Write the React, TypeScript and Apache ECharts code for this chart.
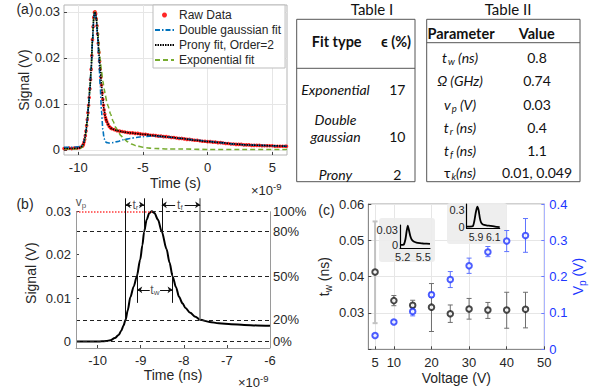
import React, { useEffect, useRef } from 'react';
import * as echarts from 'echarts';

const SANS = '"Liberation Sans", Arial, Helvetica, sans-serif';
const TAB = 'Lato, "Open Sans", "DejaVu Sans", sans-serif';
const INK = '#262626';

/* ---------------- Panel (a) ---------------- */
const aTimeTicks = [-10, -5, 0, 5];
const aSignalTicks = [0, 0.01, 0.02, 0.03];
const rawPoints = [
  [-11.1, 0.0003], [-10.9, 0.0003], [-10.7, 0.0004], [-10.5, 0.0003], [-10.3, 0.0004], [-10.1, 0.0004], [-9.9, 0.0005], [-9.7, 0.0008],
  [-9.65, 0.0009], [-9.6, 0.0012], [-9.55, 0.0017], [-9.5, 0.0023], [-9.45, 0.0031], [-9.4, 0.0041], [-9.35, 0.0053], [-9.3, 0.0066],
  [-9.25, 0.0081], [-9.2, 0.0097], [-9.15, 0.0114], [-9.1, 0.0133], [-9.05, 0.0153], [-9.0, 0.0175], [-8.95, 0.0205], [-8.9, 0.024],
  [-8.85, 0.0268], [-8.8, 0.0288], [-8.75, 0.0299], [-8.7, 0.03], [-8.65, 0.0296], [-8.6, 0.0285], [-8.55, 0.027], [-8.5, 0.0252],
  [-8.45, 0.0232], [-8.4, 0.0212], [-8.35, 0.0193], [-8.3, 0.0176], [-8.25, 0.0158], [-8.2, 0.0141], [-8.15, 0.0124], [-8.1, 0.011],
  [-8.05, 0.0097], [-8.0, 0.0087], [-7.95, 0.0078], [-7.9, 0.0071], [-7.85, 0.0066], [-7.8, 0.0062], [-7.7, 0.0056], [-7.6, 0.0051],
  [-7.5, 0.0048], [-7.4, 0.0046], [-7.2, 0.0044], [-7.0, 0.0042], [-6.8, 0.0041], [-6.6, 0.004], [-6.4, 0.0039], [-6.2, 0.0038],
  [-6.0, 0.0037], [-5.8, 0.0037], [-5.6, 0.0036], [-5.4, 0.0036], [-5.2, 0.0035], [-5.0, 0.0034], [-4.8, 0.0034], [-4.6, 0.0033],
  [-4.4, 0.0032], [-4.2, 0.0032], [-4.0, 0.0031], [-3.8, 0.003], [-3.6, 0.003], [-3.4, 0.0029], [-3.2, 0.0029], [-3.0, 0.0028],
  [-2.8, 0.0027], [-2.6, 0.0027], [-2.4, 0.0026], [-2.2, 0.0025], [-2.0, 0.0025], [-1.8, 0.0024], [-1.6, 0.0023], [-1.4, 0.0023],
  [-1.2, 0.0022], [-1.0, 0.0021], [-0.8, 0.0021], [-0.6, 0.002], [-0.4, 0.0019], [-0.2, 0.0019], [0.0, 0.0018], [0.2, 0.0018],
  [0.4, 0.0017], [0.6, 0.0017], [0.8, 0.0016], [1.0, 0.0016], [1.2, 0.0015], [1.4, 0.0014], [1.6, 0.0014], [1.8, 0.0013],
  [2.0, 0.0013], [2.2, 0.0012], [2.4, 0.0012], [2.6, 0.0012], [2.8, 0.0011], [3.0, 0.0011], [3.2, 0.0011], [3.4, 0.001],
  [3.6, 0.001], [3.8, 0.001], [4.0, 0.001], [4.2, 0.0009], [4.4, 0.0009], [4.6, 0.0009], [4.8, 0.0009], [5.0, 0.0009],
  [5.2, 0.0008], [5.4, 0.0008], [5.6, 0.0008], [5.8, 0.0008], [6.0, 0.0008], [6.1, 0.0008],
];
const doubleGaussPoints = [
  [-11.1, 0.0006], [-10.5, 0.0006], [-10, 0.0007], [-9.8, 0.0008], [-9.7, 0.001], [-9.6, 0.0015], [-9.5, 0.0025], [-9.4, 0.004],
  [-9.3, 0.0064], [-9.2, 0.0095], [-9.1, 0.0133], [-9.0, 0.0178], [-8.9, 0.0232], [-8.8, 0.0282], [-8.75, 0.0297], [-8.7, 0.03],
  [-8.65, 0.0295], [-8.6, 0.0283], [-8.5, 0.0245], [-8.4, 0.0195], [-8.3, 0.0138], [-8.2, 0.0085], [-8.1, 0.0045], [-8.0, 0.0025],
  [-7.9, 0.0018], [-7.8, 0.0016], [-7.6, 0.0015], [-7.3, 0.0016], [-7.0, 0.0018], [-6.5, 0.0022], [-6.0, 0.0025], [-5.5, 0.0027],
  [-5.0, 0.0029], [-4.5, 0.003], [-4.0, 0.003], [-3.5, 0.0029], [-3.0, 0.0028], [-2.5, 0.0026], [-2.0, 0.0025], [-1.0, 0.0022],
  [0, 0.0019], [1, 0.0016], [2, 0.0013], [3, 0.0011], [4, 0.001], [5, 0.0009], [6.14, 0.0008],
];
const pronyPoints = [
  [-11.1, 0.0003], [-10.5, 0.0003], [-10, 0.0004], [-9.8, 0.0005], [-9.7, 0.0008], [-9.6, 0.0012], [-9.5, 0.0023], [-9.4, 0.0041],
  [-9.3, 0.0066], [-9.2, 0.0097], [-9.1, 0.0133], [-9.0, 0.0175], [-8.9, 0.024], [-8.8, 0.0288], [-8.75, 0.0299], [-8.7, 0.03],
  [-8.65, 0.0296], [-8.6, 0.0285], [-8.5, 0.0252], [-8.4, 0.0212], [-8.3, 0.0176], [-8.2, 0.0141], [-8.1, 0.011], [-8.0, 0.0087],
  [-7.9, 0.0071], [-7.8, 0.0062], [-7.6, 0.0051], [-7.4, 0.0046], [-7.0, 0.0042], [-6.5, 0.0039], [-6.0, 0.0037], [-5.0, 0.0034],
  [-4.0, 0.0031], [-3.0, 0.0028], [-2.0, 0.0025], [-1.0, 0.0021], [0, 0.0018], [1, 0.0016], [2, 0.0013], [3, 0.0011],
  [4, 0.001], [5, 0.0009], [6.14, 0.0008],
];
const exponentialPoints = [
  [-11.1, 0.0002], [-10.5, 0.0002], [-10, 0.0002], [-9.8, 0.0004], [-9.7, 0.0006], [-9.6, 0.0011], [-9.5, 0.0021], [-9.4, 0.0039],
  [-9.3, 0.0064], [-9.2, 0.0095], [-9.1, 0.0132], [-9.0, 0.0176], [-8.9, 0.0236], [-8.8, 0.0286], [-8.75, 0.0298], [-8.7, 0.03],
  [-8.6, 0.0287], [-8.5, 0.0262], [-8.4, 0.0226], [-8.3, 0.0195], [-8.2, 0.017], [-8.1, 0.015], [-8.0, 0.0133], [-7.9, 0.0118],
  [-7.8, 0.0106], [-7.7, 0.0096], [-7.5, 0.0078], [-7.3, 0.0062], [-7.1, 0.0049], [-6.9, 0.0039], [-6.7, 0.0031], [-6.5, 0.0025],
  [-6.2, 0.0018], [-5.9, 0.0013], [-5.5, 0.0009], [-5.0, 0.0006], [-4.5, 0.0004], [-4.0, 0.0003], [-3.0, 0.0002], [-2.0, 0.0002],
  [0, 0.0001], [3, 0.0001], [6.14, 0.0001],
];

/* ---------------- Panel (b) ---------------- */
const bTimeTicks = [-10, -9, -8, -7, -6];
const bSignalTicks = [0, 0.01, 0.02, 0.03];
const bPulse = [
  [-10.5, 0], [-10.2, 0], [-10, 0], [-9.9, 0.00005], [-9.8, 0.0001], [-9.7, 0.0003], [-9.6, 0.0008], [-9.51, 0.0015],
  [-9.45, 0.0025], [-9.4, 0.0036], [-9.35, 0.005], [-9.3, 0.0072], [-9.24, 0.0102], [-9.16, 0.0127], [-9.09, 0.015],
  [-9.01, 0.0189], [-8.96, 0.0222], [-8.92, 0.0253], [-8.86, 0.0281], [-8.8, 0.0296], [-8.74, 0.03], [-8.68, 0.0296],
  [-8.6, 0.0281], [-8.51, 0.0253], [-8.4, 0.0213], [-8.33, 0.0182], [-8.26, 0.015], [-8.18, 0.0125], [-8.11, 0.0103],
  [-8.03, 0.0088], [-7.96, 0.0077], [-7.85, 0.0066], [-7.73, 0.0057], [-7.62, 0.005], [-7.4, 0.0045], [-7.19, 0.0042],
  [-6.9, 0.004], [-6.6, 0.0038], [-6.3, 0.0037], [-6.0, 0.0036],
];
const bLevels = [0, 0.005, 0.015, 0.0253, 0.03];
const bLevelLabels = ['0%', '20%', '50%', '80%', '100%'];
const bPeakTime = -8.74;
const bPeakSignal = 0.03;
const bRiseTimes = [-9.35, -8.92];
const bFallTimes = [-8.51, -7.62];
const bWidthTimes = [-9.08, -8.26];

/* ---------------- Panel (c) ---------------- */
const voltage = [5, 10, 15, 20, 25, 30, 35, 40, 45];
const twMean = [0.0413, 0.0334, 0.0321, 0.0316, 0.0298, 0.0311, 0.0308, 0.0308, 0.031];
const twLow = [0.0272, 0.032, 0.031, 0.0249, 0.0274, 0.0283, 0.0285, 0.0258, 0.0259];
const twHigh = [0.0552, 0.0348, 0.0335, 0.0381, 0.0322, 0.034, 0.0329, 0.0357, 0.0357];
const vpMean = [0.038, 0.075, 0.104, 0.15, 0.192, 0.23, 0.268, 0.298, 0.313];
const vpLow = [0.035, 0.071, 0.092, 0.143, 0.17, 0.209, 0.255, 0.269, 0.267];
const vpHigh = [0.041, 0.079, 0.115, 0.157, 0.214, 0.251, 0.283, 0.327, 0.36];
const voltageTicks = [5, 10, 20, 30, 40, 50];
const twTicks = [0.03, 0.04, 0.05, 0.06];
const inset1Points = [
  [5.16, 0.0003], [5.2, 0.0004], [5.22, 0.002], [5.24, 0.012], [5.255, 0.026], [5.273, 0.0386], [5.29, 0.03],
  [5.31, 0.018], [5.33, 0.011], [5.36, 0.0068], [5.4, 0.0048], [5.45, 0.0037], [5.5, 0.003], [5.597, 0.0022],
];
const inset1XTicks = [5.2, 5.5];
const inset1YTicks = [0, 0.03];
const inset2Points = [
  [5.793, 0.012], [5.83, 0.012], [5.865, 0.02], [5.88, 0.1], [5.897, 0.25], [5.915, 0.36], [5.93, 0.3],
  [5.945, 0.16], [5.96, 0.08], [5.98, 0.05], [6.02, 0.035], [6.07, 0.025], [6.12, 0.012], [6.174, 0.004],
];
const inset2XTicks = [5.9, 6.1];
const inset2YTicks = [0, 0.3];

/* ---------------- Tables ---------------- */
const table1Fits = [['Exponential'], ['Double', 'gaussian'], ['Prony']];
const table1Errors = ['17', '10', '2'];
const table2Params = [
  '{i|t}{s|w}{i| (ns)}',
  '{i|Ω (GHz)}',
  '{i|v}{s|p}{i| (V)}',
  '{i|t}{s|r}{i| (ns)}',
  '{i|t}{s|f}{i| (ns)}',
  '{g|τ}{s|k}{i|(ns)}',
];
const table2Values = ['0.8', '0.74', '0.03', '0.4', '1.1', '0.01, 0.049'];

const lbl = (extra: any = {}) => ({ fontFamily: SANS, fontSize: 13, color: INK, ...extra });
const nameStyle = (extra: any = {}) => ({ fontFamily: SANS, fontSize: 14, color: INK, ...extra });
const subRich = (color: string, size = 14) => ({
  m: { fontFamily: SANS, fontSize: size, color },
  s: { fontFamily: SANS, fontSize: Math.round(size * 0.68), color, padding: [8, 0, 0, 0] },
});

function buildOption(): any {
  const TS = 14;
  const tableText = (x: number, y: number, text: string, style: any = {}) => ({
    type: 'text', x, y, silent: true,
    style: { text, fontFamily: TAB, fontSize: TS, fill: '#111', align: 'center', verticalAlign: 'middle', ...style },
  });
  const tableRich = {
    i: { fontFamily: TAB, fontSize: TS, fontStyle: 'italic', fill: '#111' },
    g: { fontFamily: TAB, fontSize: TS, fill: '#111' },
    s: { fontFamily: TAB, fontSize: 9.5, fontStyle: 'italic', fill: '#111', padding: [8, 0, 0, 1] },
  };

  const t1Rows = [89.3, 136.7, 174];
  const t2Rows = [57.3, 80.7, 104, 127.3, 150, 172.7];
  const graphic: any[] = [
    // Table I
    tableText(372, 9, 'Table I', { fontSize: 15 }),
    { type: 'rect', shape: { x: 296.7, y: 19.3, width: 118.3, height: 162.4 }, style: { fill: 'none', stroke: '#555', lineWidth: 1 } },
    { type: 'line', shape: { x1: 296.7, y1: 68.3, x2: 415, y2: 68.3 }, style: { stroke: '#555', lineWidth: 1 } },
    tableText(336.7, 41.7, 'Fit type', { fontWeight: 'bold', fontSize: 14.5 }),
    tableText(396, 41.7, 'ϵ (%)', { fontWeight: 'bold', fontSize: 14.5 }),
    // Table II
    tableText(508, 9, 'Table II', { fontSize: 15 }),
    { type: 'rect', shape: { x: 426.7, y: 19.3, width: 153.3, height: 162.4 }, style: { fill: 'none', stroke: '#555', lineWidth: 1 } },
    { type: 'line', shape: { x1: 426.7, y1: 42.7, x2: 580, y2: 42.7 }, style: { stroke: '#555', lineWidth: 1 } },
    tableText(461, 33.3, 'Parameter', { fontWeight: 'bold', fontSize: 14.5 }),
    tableText(536.7, 33.3, 'Value', { fontWeight: 'bold', fontSize: 14.5 }),
    // panel tags
    tableText(25, 9, '(a)', { fontFamily: SANS, fontSize: 14, fill: INK }),
    tableText(25, 204, '(b)', { fontFamily: SANS, fontSize: 14, fill: INK }),
    tableText(326.5, 210, '(c)', { fontFamily: SANS, fontSize: 14, fill: INK }),
    // exponent notes
    {
      type: 'text', x: 251, y: 190, silent: true,
      style: { text: '×10{sup|-9}', rich: { sup: { fontFamily: SANS, fontSize: 9.5, fill: INK, padding: [0, 0, 8, 0] } }, fontFamily: SANS, fontSize: 13, fill: INK, align: 'left', verticalAlign: 'middle' },
    },
    {
      type: 'text', x: 238, y: 382, silent: true,
      style: { text: '×10{sup|-9}', rich: { sup: { fontFamily: SANS, fontSize: 9.5, fill: INK, padding: [0, 0, 8, 0] } }, fontFamily: SANS, fontSize: 13, fill: INK, align: 'left', verticalAlign: 'middle' },
    },
    // inset backgrounds
    { type: 'rect', z: 1, shape: { x: 379, y: 218, width: 56, height: 44, r: 3 }, style: { fill: 'rgba(236,236,236,0.9)' } },
    { type: 'rect', z: 1, shape: { x: 447, y: 203, width: 60, height: 41, r: 3 }, style: { fill: 'rgba(236,236,236,0.9)' } },
  ];
  table1Fits.forEach((lines, i) => {
    const y = t1Rows[i];
    lines.forEach((ln, k) => {
      graphic.push(tableText(335.5, y - (lines.length - 1 - k) * 17.4, ln, { fontStyle: 'italic' }));
    });
    graphic.push(tableText(397.3, y, table1Errors[i]));
  });
  table2Params.forEach((p, i) => {
    graphic.push({
      type: 'text', x: 460, y: t2Rows[i], silent: true,
      style: { text: p, rich: tableRich, fontFamily: TAB, fontSize: TS, fill: '#111', align: 'center', verticalAlign: 'middle' },
    });
    graphic.push(tableText(537, t2Rows[i], table2Values[i]));
  });

  // ---- panel (b) decorations (through data coordinates) ----
  const bX0 = -10.5, bX1 = -6, bY0 = -0.0015, bYTop = 0.033;
  const dashed = { type: [4, 3], color: '#222', width: 1 };
  const solid = { type: 'solid', color: '#111', width: 1 };
  const bMarks: any[] = [];
  bLevels.forEach((l) => {
    if (l < bPeakSignal) bMarks.push([{ coord: [bX0, l], lineStyle: dashed }, { coord: [bX1, l] }]);
  });
  bMarks.push([{ coord: [bX0, bPeakSignal], lineStyle: { type: [1.5, 1.5], color: '#ff3b3b', width: 1.5 } }, { coord: [bPeakTime, bPeakSignal] }]);
  bMarks.push([{ coord: [bPeakTime, bPeakSignal], lineStyle: dashed }, { coord: [bX1, bPeakSignal] }]);
  bMarks.push([{ coord: [bX0, bY0], lineStyle: { type: 'solid', color: '#9a9a9a', width: 1 } }, { coord: [bX0, bPeakSignal] }]);
  bMarks.push([{ coord: [bX1, bY0], lineStyle: { type: 'solid', color: '#9a9a9a', width: 1 } }, { coord: [bX1, bPeakSignal] }]);
  bMarks.push([{ coord: [bRiseTimes[0], bYTop], lineStyle: solid }, { coord: [bRiseTimes[0], bLevels[1]] }]);
  bMarks.push([{ coord: [bRiseTimes[1], bYTop], lineStyle: solid }, { coord: [bRiseTimes[1], bLevels[3]] }]);
  bMarks.push([{ coord: [bFallTimes[0], bYTop], lineStyle: solid }, { coord: [bFallTimes[0], bLevels[3]] }]);
  bMarks.push([{ coord: [bFallTimes[1], bYTop], lineStyle: { type: 'solid', color: '#7a7a7a', width: 1.5 } }, { coord: [bFallTimes[1], bLevels[1]] }]);
  bMarks.push([{ coord: [bWidthTimes[0], 0.0158], lineStyle: solid }, { coord: [bWidthTimes[0], 0.0089] }]);
  bMarks.push([{ coord: [bWidthTimes[1], 0.0158], lineStyle: solid }, { coord: [bWidthTimes[1], 0.0089] }]);
  const arrowY = 0.0315, twY = 0.0119;
  const arrows = [
    [-9.21, bRiseTimes[0], arrowY], [-9.03, bRiseTimes[1], arrowY],
    [-8.2, bFallTimes[0], arrowY], [-7.98, bFallTimes[1], arrowY],
    [-8.79, bWidthTimes[0], twY], [-8.55, bWidthTimes[1], twY],
  ];
  arrows.forEach(([a, b, y]) => {
    bMarks.push([{ coord: [a, y], symbol: 'none', lineStyle: solid }, { coord: [b, y], symbol: 'arrow', symbolSize: 5 }]);
  });

  const noteRich = {
    m: { fontFamily: SANS, fontSize: 12, color: INK },
    s: { fontFamily: SANS, fontSize: 8, color: INK, padding: [6, 0, 0, 0] },
  };
  const bNotes = [
    { value: [bX0, bPeakSignal], label: { formatter: '{m|v}{s|p}', offset: [5, -9] } },
    { value: [-9.12, arrowY], label: { formatter: '{m|t}{s|r}' } },
    { value: [-8.09, arrowY], label: { formatter: '{m|t}{s|f}' } },
    { value: [-8.67, twY], label: { formatter: '{m|t}{s|w}' } },
  ];

  const errorBars = (name: string, yAxisIndex: number, low: number[], high: number[], color: string, firstStyle?: any) => ({
    type: 'custom', name, xAxisIndex: 2, yAxisIndex, z: 2, silent: true,
    data: voltage.map((v, i) => [v, low[i], high[i]]),
    encode: { x: 0, y: [1, 2] },
    renderItem: (params: any, api: any) => {
      const x = api.value(0);
      const p1 = api.coord([x, api.value(1)]);
      const p2 = api.coord([x, api.value(2)]);
      const w = 2.5;
      const st = params.dataIndex === 0 && firstStyle ? firstStyle : { stroke: color, lineWidth: 1 };
      return {
        type: 'group',
        children: [
          { type: 'line', shape: { x1: p1[0], y1: p1[1], x2: p2[0], y2: p2[1] }, style: st },
          { type: 'line', shape: { x1: p1[0] - w, y1: p1[1], x2: p1[0] + w, y2: p1[1] }, style: st },
          { type: 'line', shape: { x1: p2[0] - w, y1: p2[1], x2: p2[0] + w, y2: p2[1] }, style: st },
        ],
      };
    },
  });

  const BLUE = '#2036ff';
  const tickIn = (customValues?: number[], color = '#444') => ({ show: true, inside: true, length: 3, lineStyle: { color }, ...(customValues ? { customValues } : {}) });
  const hideSym = { opacity: 0 };

  return {
    animation: false,
    graphic,
    legend: {
      data: [
        { name: 'Raw Data' },
        { name: 'Double gaussian fit', itemStyle: hideSym },
        { name: 'Prony fit, Order=2', itemStyle: hideSym },
        { name: 'Exponential fit', itemStyle: hideSym },
      ],
      orient: 'vertical', left: 153, top: 5, itemWidth: 19, itemHeight: 5, itemGap: 3,
      padding: [4, 4, 2, 1], backgroundColor: '#fff', borderColor: '#bdbdbd', borderWidth: 1,
      textStyle: { fontFamily: SANS, fontSize: 12, color: INK }, selectedMode: false,
    },
    grid: [
      { left: 64, top: 5, width: 223, height: 150, show: true, borderColor: '#b5b5b5', borderWidth: 1 },
      { left: 76, top: 198.3, width: 194, height: 149.7 },
      { left: 368.3, top: 204, width: 176, height: 145.3, show: true, borderColor: '#a0a0a0', borderWidth: 1 },
      { left: 400, top: 225, width: 30, height: 23 },
      { left: 466.7, top: 204, width: 33, height: 24.3 },
    ],
    xAxis: [
      {
        gridIndex: 0, type: 'value', min: -11.1, max: 6.14,
        axisLine: { show: false, onZero: false }, axisTick: tickIn(aTimeTicks),
        axisLabel: { customValues: aTimeTicks, margin: 6, ...lbl() },
        splitLine: { show: true, lineStyle: { color: '#e6e6e6' } },
        name: 'Time (s)', nameLocation: 'middle', nameGap: 21, nameTextStyle: nameStyle(),
      },
      {
        gridIndex: 1, type: 'value', min: bX0, max: bX1,
        axisLine: { show: true, onZero: false, lineStyle: { color: '#9a9a9a' } }, axisTick: tickIn(bTimeTicks),
        axisLabel: { customValues: bTimeTicks, margin: 6, ...lbl() },
        splitLine: { show: false },
        name: 'Time (ns)', nameLocation: 'middle', nameGap: 20, nameTextStyle: nameStyle(),
      },
      {
        gridIndex: 2, type: 'value', min: 3.2, max: 50,
        axisLine: { show: true, onZero: false, lineStyle: { color: '#8a8a8a' } }, axisTick: tickIn(voltageTicks),
        axisLabel: { customValues: voltageTicks, margin: 7, ...lbl() },
        splitLine: { show: true, lineStyle: { color: '#e6e6e6' } },
        name: 'Voltage (V)', nameLocation: 'middle', nameGap: 22, nameTextStyle: nameStyle(),
      },
      {
        gridIndex: 3, type: 'value', min: 5.16, max: 5.597, z: 5,
        axisLine: { show: true, onZero: false, lineStyle: { color: '#000', width: 1.2 } }, axisTick: { show: false },
        axisLabel: { customValues: inset1XTicks, margin: 3, ...lbl({ fontSize: 11 }) }, splitLine: { show: false },
      },
      {
        gridIndex: 4, type: 'value', min: 5.793, max: 6.174, z: 5,
        axisLine: { show: true, onZero: false, lineStyle: { color: '#000', width: 1.2 } }, axisTick: { show: false },
        axisLabel: { customValues: inset2XTicks, margin: 3, ...lbl({ fontSize: 10.5 }) }, splitLine: { show: false },
      },
    ],
    yAxis: [
      {
        gridIndex: 0, type: 'value', min: -0.0011, max: 0.0315,
        axisLine: { show: false, onZero: false }, axisTick: tickIn(aSignalTicks),
        axisLabel: { customValues: aSignalTicks, margin: 4, ...lbl() },
        splitLine: { show: true, lineStyle: { color: '#e6e6e6' } },
        name: 'Signal (V)', nameLocation: 'middle', nameGap: 32, nameTextStyle: nameStyle(),
      },
      {
        gridIndex: 1, type: 'value', min: bY0, max: bYTop,
        axisLine: { show: false, onZero: false }, axisTick: tickIn(bSignalTicks),
        axisLabel: { customValues: bSignalTicks, margin: 5, ...lbl() },
        splitLine: { show: false },
        name: 'Signal (V)', nameLocation: 'middle', nameGap: 38, nameTextStyle: nameStyle(),
      },
      {
        gridIndex: 1, type: 'value', position: 'right', min: bY0, max: bYTop,
        axisLine: { show: false, onZero: false }, axisTick: { show: false },
        axisLabel: {
          customValues: bLevels, margin: 3, ...lbl(),
          formatter: (v: number) => {
            const i = bLevels.findIndex((l) => Math.abs(l - v) < 1e-7);
            return i >= 0 ? bLevelLabels[i] : '';
          },
        },
        splitLine: { show: false },
      },
      {
        gridIndex: 2, type: 'value', min: 0.02, max: 0.06, interval: 0.01,
        axisLine: { show: true, onZero: false, lineStyle: { color: '#8a8a8a' } }, axisTick: tickIn(),
        axisLabel: { customValues: twTicks, margin: 4, ...lbl() },
        splitLine: { show: true, lineStyle: { color: '#e6e6e6' } },
        name: '{m|t}{s|w}{m| (ns)}', nameLocation: 'middle', nameGap: 35,
        nameTextStyle: { ...nameStyle(), rich: subRich(INK) },
      },
      {
        gridIndex: 2, type: 'value', position: 'right', min: 0, max: 0.4, interval: 0.1,
        axisLine: { show: true, onZero: false, lineStyle: { color: '#aab4ff' } }, axisTick: tickIn(undefined, '#6c7cff'),
        axisLabel: { margin: 5, ...lbl({ color: BLUE }) },
        splitLine: { show: false },
        name: '{m|V}{s|p}{m| (V)}', nameLocation: 'middle', nameGap: 25,
        nameTextStyle: { ...nameStyle({ color: BLUE }), rich: subRich(BLUE) },
      },
      {
        gridIndex: 3, type: 'value', min: -0.006, max: 0.04, z: 5,
        axisLine: { show: true, onZero: false, lineStyle: { color: '#000', width: 1.2 } }, axisTick: { show: false },
        axisLabel: { customValues: inset1YTicks, margin: 2, ...lbl({ fontSize: 11 }) }, splitLine: { show: false },
      },
      {
        gridIndex: 4, type: 'value', min: -0.017, max: 0.404, z: 5,
        axisLine: { show: true, onZero: false, lineStyle: { color: '#000', width: 1.2 } }, axisTick: { show: false },
        axisLabel: { customValues: inset2YTicks, margin: 2, ...lbl({ fontSize: 11 }) }, splitLine: { show: false },
      },
    ],
    series: [
      {
        name: 'Raw Data', type: 'scatter', xAxisIndex: 0, yAxisIndex: 0, z: 2, silent: true,
        data: rawPoints, symbol: 'circle', symbolSize: 3.6, itemStyle: { color: '#ff1010', opacity: 0.9 },
      },
      {
        name: 'Exponential fit', type: 'line', xAxisIndex: 0, yAxisIndex: 0, z: 3, silent: true,
        data: exponentialPoints, symbol: 'none', smooth: 0.25, smoothMonotone: 'x',
        itemStyle: { color: '#77ac30' }, lineStyle: { color: '#77ac30', width: 1.6, type: [5, 3] },
      },
      {
        name: 'Double gaussian fit', type: 'line', xAxisIndex: 0, yAxisIndex: 0, z: 3, silent: true,
        data: doubleGaussPoints, symbol: 'none', smooth: 0.25, smoothMonotone: 'x',
        itemStyle: { color: '#0072bd' }, lineStyle: { color: '#0072bd', width: 1.6, type: [5, 2, 1.5, 2] },
      },
      {
        name: 'Prony fit, Order=2', type: 'line', xAxisIndex: 0, yAxisIndex: 0, z: 4, silent: true,
        data: pronyPoints, symbol: 'none', smooth: 0.25, smoothMonotone: 'x',
        itemStyle: { color: '#000' }, lineStyle: { color: '#000', width: 1.6, type: [1.5, 1] },
      },
      {
        name: 'pulse', type: 'line', xAxisIndex: 1, yAxisIndex: 1, z: 3, silent: true,
        data: bPulse, symbol: 'none', smooth: 0.3, smoothMonotone: 'x',
        lineStyle: { color: '#000', width: 2 },
        markLine: { silent: true, symbol: ['none', 'none'], label: { show: false }, data: bMarks, animation: false },
      },
      {
        name: 'notes', type: 'scatter', xAxisIndex: 1, yAxisIndex: 1, z: 5, silent: true,
        symbolSize: 0, data: bNotes,
        label: { show: true, position: 'inside', rich: noteRich, color: INK },
      },
      errorBars('twErr', 3, twLow, twHigh, '#6e6e6e', { stroke: '#c2c2c2', lineWidth: 2 }),
      errorBars('vpErr', 4, vpLow, vpHigh, '#5f74ff'),
      {
        name: 'tw', type: 'scatter', xAxisIndex: 2, yAxisIndex: 3, z: 4, silent: true,
        data: voltage.map((v, i) => [v, twMean[i]]), symbol: 'emptyCircle', symbolSize: 5.5,
        itemStyle: { color: '#1a1a1a', borderWidth: 1.3 },
      },
      {
        name: 'vp', type: 'scatter', xAxisIndex: 2, yAxisIndex: 4, z: 4, silent: true,
        data: voltage.map((v, i) => [v, vpMean[i]]), symbol: 'emptyCircle', symbolSize: 5.5,
        itemStyle: { color: BLUE, borderWidth: 1.3 },
      },
      {
        name: 'inset1', type: 'line', xAxisIndex: 3, yAxisIndex: 5, z: 6, silent: true,
        data: inset1Points, symbol: 'none', smooth: 0.2, lineStyle: { color: '#000', width: 1.8 },
      },
      {
        name: 'inset2', type: 'line', xAxisIndex: 4, yAxisIndex: 6, z: 6, silent: true,
        data: inset2Points, symbol: 'none', smooth: 0.2, lineStyle: { color: '#000', width: 1.8 },
      },
    ],
  };
}

export default function App() {
  const ref = useRef<HTMLDivElement>(null);
  useEffect(() => {
    if (!ref.current) return;
    const chart = echarts.init(ref.current, undefined, { renderer: 'svg' });
    chart.setOption(buildOption());
    return () => chart.dispose();
  }, []);
  return (
    <div
      ref={ref}
      style={{ width: 595, height: 390, position: 'absolute', left: 0, top: 0, background: '#fff' }}
    />
  );
}
